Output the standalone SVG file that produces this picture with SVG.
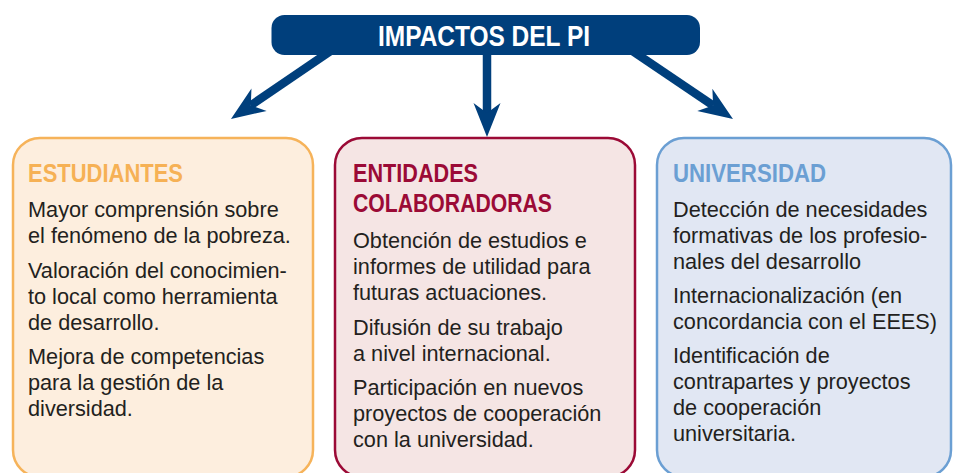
<svg xmlns="http://www.w3.org/2000/svg" width="953" height="473" viewBox="0 0 953 473">
<style>
.body{font-family:"Liberation Sans",Arial,sans-serif;font-size:21.7px;fill:#231f20}
.head{font-family:"Liberation Sans",Arial,sans-serif;font-size:26px;font-weight:bold}
.shaft{fill:none;stroke:#003f7c;stroke-width:8.5;marker-end:url(#ah)}
</style>
<defs>
<marker id="ah" markerUnits="userSpaceOnUse" viewBox="-12 -15 38 30" markerWidth="38" markerHeight="30" refX="0" refY="0" orient="auto">
<path d="M24,0 L-10,-13.5 L0,0 L-10,13.5 Z" fill="#003f7c"/>
</marker>
</defs>
<rect width="953" height="473" fill="#ffffff"/>
<g id="connectors">
<path class="shaft" d="M332,50 L250.8,105.4"/>
<path class="shaft" d="M487,50 L487,113"/>
<path class="shaft" d="M631,50 L713.1,105.5"/>
</g>
<g id="title">
<rect x="271.5" y="15" width="428.5" height="40" rx="13" fill="#003f7c"/>
<text x="378" y="45.5" font-family="Liberation Sans,Arial,sans-serif" font-size="29" font-weight="bold" fill="#ffffff" textLength="212" lengthAdjust="spacingAndGlyphs">IMPACTOS DEL PI</text>
</g>
<g id="estudiantes">
<rect x="13" y="138" width="300" height="339" rx="27" fill="#fdeede" stroke="#f6b35a" stroke-width="2.5"/>
<text class="head" x="28" y="182" fill="#f6b155" textLength="155" lengthAdjust="spacingAndGlyphs">ESTUDIANTES</text>
<text class="body">
<tspan x="28" y="217">Mayor comprensión sobre</tspan>
<tspan x="28" y="243">el fenómeno de la pobreza.</tspan>
<tspan x="28" y="278">Valoración del conocimien-</tspan>
<tspan x="28" y="304">to local como herramienta</tspan>
<tspan x="28" y="330">de desarrollo.</tspan>
<tspan x="28" y="364">Mejora de competencias</tspan>
<tspan x="28" y="390">para la gestión de la</tspan>
<tspan x="28" y="416">diversidad.</tspan>
</text>
</g>
<g id="entidades">
<rect x="335" y="138" width="300" height="339" rx="27" fill="#f5e5e4" stroke="#9b0a36" stroke-width="2.5"/>
<text class="head" x="353" y="182" fill="#9b0a36" textLength="125" lengthAdjust="spacingAndGlyphs">ENTIDADES</text>
<text class="head" x="353" y="212" fill="#9b0a36" textLength="199" lengthAdjust="spacingAndGlyphs">COLABORADORAS</text>
<text class="body">
<tspan x="353" y="248">Obtención de estudios e</tspan>
<tspan x="353" y="274">informes de utilidad para</tspan>
<tspan x="353" y="300">futuras actuaciones.</tspan>
<tspan x="353" y="335">Difusión de su trabajo</tspan>
<tspan x="353" y="361">a nivel internacional.</tspan>
<tspan x="353" y="395">Participación en nuevos</tspan>
<tspan x="353" y="421">proyectos de cooperación</tspan>
<tspan x="353" y="447">con la universidad.</tspan>
</text>
</g>
<g id="universidad">
<rect x="657" y="138" width="294" height="339" rx="27" fill="#e1e7f3" stroke="#6b9fd3" stroke-width="2.5"/>
<text class="head" x="673" y="182" fill="#6b9fd3" textLength="153" lengthAdjust="spacingAndGlyphs">UNIVERSIDAD</text>
<text class="body">
<tspan x="673" y="217">Detección de necesidades</tspan>
<tspan x="673" y="243">formativas de los profesio-</tspan>
<tspan x="673" y="269">nales del desarrollo</tspan>
<tspan x="673" y="303">Internacionalización (en</tspan>
<tspan x="673" y="329">concordancia con el EEES)</tspan>
<tspan x="673" y="363">Identificación de</tspan>
<tspan x="673" y="389">contrapartes y proyectos</tspan>
<tspan x="673" y="415">de cooperación</tspan>
<tspan x="673" y="441">universitaria.</tspan>
</text>
</g>
</svg>
